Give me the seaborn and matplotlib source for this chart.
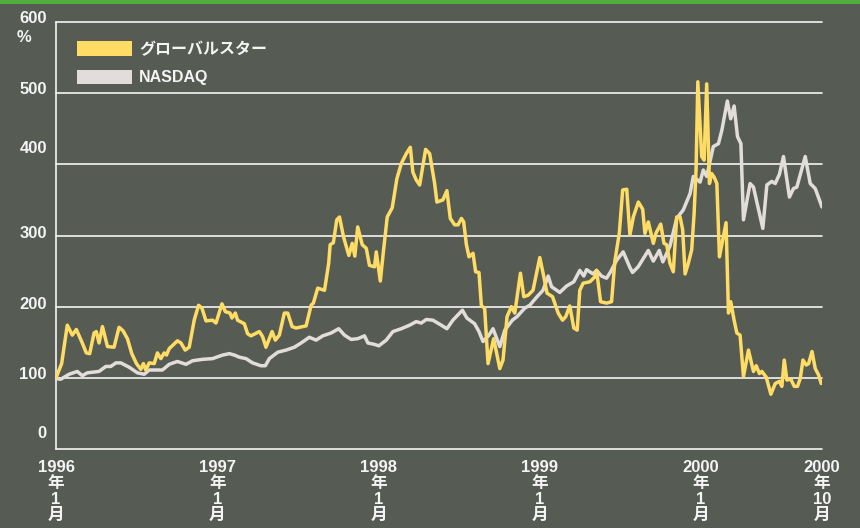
import matplotlib
matplotlib.use("Agg")
import matplotlib.pyplot as plt
from matplotlib.patches import Patch, Rectangle
from matplotlib.transforms import ScaledTranslation
import seaborn as sns
import pandas as pd

# ---------------- data (decimal years, % of start) ----------------
gs_year = [1996.0, 1996.035, 1996.070, 1996.101, 1996.126, 1996.163, 1996.188, 1996.209,
           1996.236, 1996.250, 1996.267, 1996.288, 1996.319, 1996.360, 1996.391, 1996.416,
           1996.443, 1996.470, 1996.499, 1996.526, 1996.542, 1996.557, 1996.578, 1996.609,
           1996.629, 1996.650, 1996.671, 1996.685, 1996.702, 1996.753, 1996.775, 1996.801,
           1996.826, 1996.857, 1996.884, 1996.905, 1996.930, 1996.971, 1996.992, 1997.029,
           1997.050, 1997.079, 1997.091, 1997.112, 1997.126, 1997.168, 1997.188, 1997.209,
           1997.261, 1997.281, 1997.302, 1997.340, 1997.360, 1997.385, 1997.416, 1997.437,
           1997.464, 1997.489, 1997.551, 1997.582, 1997.596, 1997.623, 1997.665, 1997.691,
           1997.700, 1997.720, 1997.741, 1997.758, 1997.783, 1997.816, 1997.837, 1997.853,
           1997.871, 1997.899, 1997.924, 1997.944, 1997.975, 1997.986, 1998.011, 1998.031,
           1998.054, 1998.085, 1998.114, 1998.141, 1998.172, 1998.197, 1998.213, 1998.234,
           1998.255, 1998.292, 1998.317, 1998.348, 1998.362, 1998.399, 1998.424, 1998.445,
           1998.472, 1998.493, 1998.514, 1998.528, 1998.545, 1998.561, 1998.586, 1998.602,
           1998.623, 1998.638, 1998.658, 1998.679, 1998.714, 1998.752, 1998.772, 1998.797,
           1998.824, 1998.845, 1998.880, 1998.901, 1998.927, 1998.958, 1999.000, 1999.025,
           1999.045, 1999.079, 1999.114, 1999.141, 1999.161, 1999.186, 1999.211, 1999.232,
           1999.248, 1999.269, 1999.311, 1999.342, 1999.352, 1999.377, 1999.414, 1999.445,
           1999.466, 1999.493, 1999.514, 1999.539, 1999.559, 1999.580, 1999.611, 1999.638,
           1999.652, 1999.673, 1999.704, 1999.720, 1999.750, 1999.770, 1999.787, 1999.807,
           1999.828, 1999.849, 1999.870, 1999.886, 1999.901, 1999.921, 1999.942, 1999.957,
           1999.969, 1999.980, 2000.004, 2000.019, 2000.035, 2000.052, 2000.066, 2000.081,
           2000.098, 2000.114, 2000.155, 2000.170, 2000.184, 2000.205, 2000.222, 2000.242,
           2000.263, 2000.294, 2000.325, 2000.342, 2000.362, 2000.377, 2000.404, 2000.433,
           2000.460, 2000.486, 2000.501, 2000.516, 2000.532, 2000.557, 2000.578, 2000.598,
           2000.615, 2000.632, 2000.652, 2000.667, 2000.688, 2000.708, 2000.729, 2000.745]
gs_value = [100, 120, 174, 160, 168, 149, 135, 134,
            163, 165, 149, 172, 144, 143, 171, 166,
            155, 134, 120, 112, 120, 111, 121, 120,
            135, 127, 135, 132, 141, 152, 149, 139,
            143, 181, 202, 198, 180, 181, 177, 204,
            193, 191, 184, 191, 181, 176, 162, 159,
            165, 158, 143, 165, 153, 160, 191, 191,
            172, 170, 173, 202, 205, 226, 223, 261,
            287, 290, 322, 326, 298, 272, 289, 271,
            312, 287, 282, 258, 256, 277, 236, 279,
            326, 339, 380, 401, 415, 424, 389, 378,
            371, 421, 415, 373, 347, 350, 363, 324,
            315, 315, 324, 319, 287, 270, 275, 249,
            248, 201, 198, 120, 155, 113, 125, 186,
            200, 191, 247, 214, 216, 223, 269, 242,
            219, 214, 191, 181, 186, 201, 170, 167,
            223, 233, 235, 242, 251, 207, 205, 207,
            265, 303, 364, 365, 301, 326, 347, 337,
            303, 319, 289, 303, 316, 289, 287, 261,
            249, 326, 326, 308, 246, 261, 280, 331,
            392, 516, 411, 406, 513, 373, 387, 382,
            373, 270, 318, 191, 207, 181, 163, 160,
            102, 139, 109, 117, 106, 109, 101, 77,
            92, 95, 88, 125, 97, 98, 88, 88,
            99, 125, 118, 120, 137, 113, 104, 92]

nq_year = [1996.0, 1996.029, 1996.081, 1996.132, 1996.163, 1996.194, 1996.267, 1996.309,
           1996.340, 1996.371, 1996.402, 1996.453, 1996.505, 1996.547, 1996.578, 1996.660,
           1996.702, 1996.753, 1996.806, 1996.847, 1996.909, 1996.971, 1997.033, 1997.075,
           1997.106, 1997.137, 1997.178, 1997.219, 1997.271, 1997.298, 1997.323, 1997.375,
           1997.427, 1997.478, 1997.520, 1997.571, 1997.613, 1997.654, 1997.706, 1997.753,
           1997.789, 1997.830, 1997.871, 1997.913, 1997.934, 1997.975, 1998.002, 1998.048,
           1998.089, 1998.141, 1998.193, 1998.234, 1998.265, 1998.296, 1998.337, 1998.389,
           1998.424, 1998.461, 1998.520, 1998.548, 1998.596, 1998.623, 1998.648, 1998.685,
           1998.710, 1998.752, 1998.783, 1998.830, 1998.859, 1998.907, 1998.938, 1998.983,
           1999.020, 1999.052, 1999.073, 1999.124, 1999.166, 1999.211, 1999.248, 1999.273,
           1999.290, 1999.331, 1999.352, 1999.383, 1999.414, 1999.439, 1999.476, 1999.517,
           1999.559, 1999.575, 1999.610, 1999.673, 1999.704, 1999.741, 1999.763, 1999.807,
           1999.849, 1999.890, 1999.932, 1999.952, 1999.994, 2000.014, 2000.035, 2000.076,
           2000.108, 2000.129, 2000.163, 2000.184, 2000.205, 2000.226, 2000.247, 2000.263,
           2000.304, 2000.325, 2000.357, 2000.383, 2000.408, 2000.439, 2000.460, 2000.486,
           2000.511, 2000.548, 2000.573, 2000.594, 2000.646, 2000.677, 2000.708, 2000.750]
nq_value = [99, 98, 105, 109, 103, 107, 109, 116,
            116, 121, 121, 115, 107, 105, 111, 111,
            119, 123, 119, 124, 126, 127, 132, 134,
            132, 129, 127, 121, 117, 117, 127, 136,
            139, 143, 149, 157, 153, 159, 163, 169,
            160, 154, 155, 159, 149, 147, 145, 153,
            165, 169, 174, 179, 177, 182, 181, 174,
            169, 181, 195, 184, 176, 165, 151, 160,
            169, 144, 167, 181, 186, 198, 202, 214,
            223, 243, 228, 220, 229, 235, 251, 243,
            252, 246, 251, 243, 240, 249, 265, 277,
            255, 248, 256, 279, 264, 279, 263, 285,
            324, 336, 359, 383, 375, 392, 383, 425,
            429, 448, 489, 464, 482, 439, 429, 322,
            373, 368, 336, 310, 371, 376, 373, 386,
            411, 354, 366, 368, 411, 373, 366, 340]

series_names = ["グローバルスター", "NASDAQ"]
y_ticks = [0, 100, 200, 300, 400, 500, 600]
x_ticks = [1996.0, 1997.0, 1998.0, 1999.0, 2000.0, 2000.75]
x_tick_labels = ["1996\n年\n1\n月", "1997\n年\n1\n月", "1998\n年\n1\n月",
                 "1999\n年\n1\n月", "2000\n年\n1\n月", "2000\n年\n10\n月"]

# ---------------- style ----------------
BG = "#565c53"
YELLOW = "#ffdc64"
GRAY = "#e2dddb"
WHITE = "#f4f4f4"

sns.set_style("white")
plt.rcParams["font.family"] = ["Liberation Sans", "Noto Sans CJK JP"]
plt.rcParams["font.weight"] = "bold"

df = pd.concat([
    pd.DataFrame({"year": gs_year, "value": gs_value, "series": series_names[0]}),
    pd.DataFrame({"year": nq_year, "value": nq_value, "series": series_names[1]}),
])

fig = plt.figure(figsize=(8.6, 5.28), dpi=100, facecolor=BG)
ax = fig.add_axes([56 / 860, 1 - 449 / 528, 766 / 860, 427 / 528])
ax.set_facecolor(BG)

# green strip at the top
fig.patches.append(Rectangle((0, 1 - 3.5 / 528), 1, 3.5 / 528, transform=fig.transFigure,
                             facecolor="#4fae3e", edgecolor="none", zorder=5))

sns.lineplot(data=df[df.series == series_names[1]], x="year", y="value", ax=ax,
             color=GRAY, lw=2.5, sort=False, estimator=None, legend=False,
             solid_joinstyle="round", zorder=3)
sns.lineplot(data=df[df.series == series_names[0]], x="year", y="value", ax=ax,
             color=YELLOW, lw=2.5, sort=False, estimator=None, legend=False,
             solid_joinstyle="round", zorder=4)

ax.set_xlim(1996.0, 2000.75)
ax.set_ylim(0, 600)
ax.set_yticks(y_ticks)
ax.set_yticklabels([str(v) for v in y_ticks])
ax.set_xticks(x_ticks)
ax.set_xticklabels(x_tick_labels, linespacing=1.08)
ax.set_xlabel("")
ax.set_ylabel("")

ax.grid(axis="y", color=WHITE, lw=1.2, clip_on=False)
ax.grid(axis="x", visible=False)
ax.set_axisbelow(True)
for s in ["top", "right", "bottom"]:
    ax.spines[s].set_visible(False)
ax.spines["left"].set_color(WHITE)
ax.spines["left"].set_linewidth(1.2)

ax.tick_params(axis="both", length=0, colors=WHITE, labelsize=12)
ax.tick_params(axis="x", pad=8)
ax.tick_params(axis="y", pad=6.5)
for lab in ax.get_xticklabels() + ax.get_yticklabels():
    lab.set_fontweight("bold")
    lab.set_color(WHITE)

# y labels sit a little above their grid lines
y_shift_px = {0: 17, 100: 5, 200: 4, 300: 4, 400: 17, 500: 5, 600: 5}
for v, lab in zip(y_ticks, ax.get_yticklabels()):
    lab.set_transform(lab.get_transform() +
                      ScaledTranslation(0, y_shift_px[v] / 100, fig.dpi_scale_trans))

# unit
fig.text(17 / 860, 1 - 37 / 528, "%", color=WHITE, fontsize=12, fontweight="bold",
         ha="left", va="center")

# legend
handles = [Patch(facecolor=YELLOW, edgecolor="none", label=series_names[0]),
           Patch(facecolor=GRAY, edgecolor="none", label=series_names[1])]
leg = ax.legend(handles=handles, loc="upper left",
                bbox_to_anchor=(21 / 766, 1 - 19 / 427), frameon=False,
                borderpad=0, borderaxespad=0, handlelength=3.45, handleheight=1.05,
                handletextpad=0.45, labelspacing=0.8,
                prop={"size": 11.5, "weight": "bold",
                      "family": ["Liberation Sans", "Noto Sans CJK JP"]})
for t in leg.get_texts():
    t.set_color(WHITE)

fig.savefig("out.png", dpi=100, facecolor=BG)
